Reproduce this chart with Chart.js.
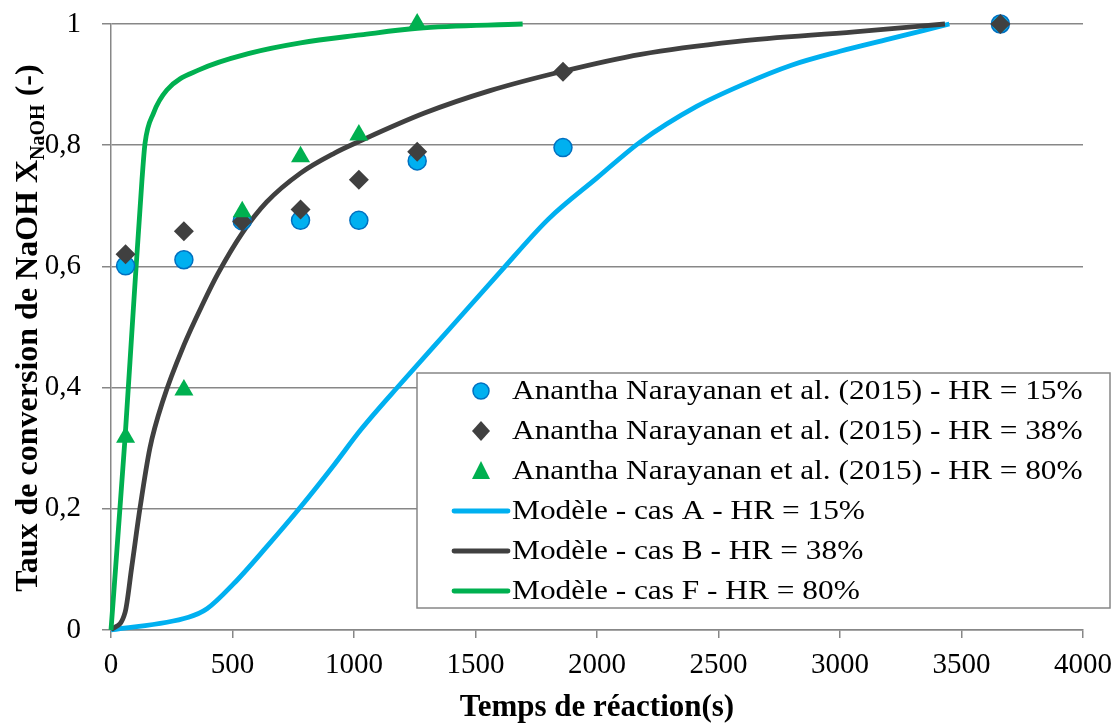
<!DOCTYPE html>
<html>
<head>
<meta charset="utf-8">
<title>Taux de conversion de NaOH</title>
<script src="https://cdn.jsdelivr.net/npm/chart.js"></script>
<style>
  html, body { margin: 0; padding: 0; background: #fff; }
</style>
</head>
<body>
<canvas id="conversionChart" width="1116" height="724"></canvas>
<script>
// experimental points (Anantha Narayanan et al. 2015)
const tExp = [60, 300, 540, 780, 1020, 1260, 1860, 3660];
const expHR15 = [0.601, 0.611, 0.675, 0.676, 0.676, 0.774, 0.796, 1.0];
const expHR38 = [0.62, 0.658, 0.674, 0.694, 0.743, 0.789, 0.921, 1.0];
const tExp80 = [60, 300, 540, 780, 1020, 1260];
const expHR80 = [0.318, 0.396, 0.69, 0.781, 0.817, 1.0];

// model curves
const tModelA = [0, 319, 395, 504, 642, 780, 917, 1027, 1200, 1400, 1600, 1800, 2000, 2180, 2410, 2600, 2800, 3000, 3200, 3350, 3450];
const modelA = [0, 0.021, 0.035, 0.076, 0.138, 0.203, 0.272, 0.33, 0.41, 0.5, 0.59, 0.678, 0.746, 0.806, 0.864, 0.9, 0.932, 0.955, 0.975, 0.99, 1.0];
const tModelB = [0, 58, 85, 120, 160, 215, 300, 380, 440, 540, 640, 780, 920, 1020, 1290, 1560, 1860, 2180, 2570, 3060, 3432];
const modelB = [0, 0.029, 0.103, 0.203, 0.3, 0.38, 0.47, 0.54, 0.588, 0.655, 0.706, 0.754, 0.787, 0.806, 0.853, 0.89, 0.922, 0.95, 0.971, 0.987, 1.0];
const tModelF = [0, 58, 92, 127, 140, 175, 230, 367, 573, 780, 1027, 1261, 1694];
const modelF = [0, 0.318, 0.53, 0.74, 0.803, 0.853, 0.891, 0.925, 0.952, 0.969, 0.982, 0.993, 1.0];

const xTicks = [0, 500, 1000, 1500, 2000, 2500, 3000, 3500, 4000];

const SERIF = '"Liberation Serif", "DejaVu Serif", serif';
const BLUE = '#00B0F0';
const DARK = '#404040';
const GREEN = '#00B050';
const GRID = '#878787';

const pts = (xs, ys) => xs.map((x, i) => ({ x: x, y: ys[i] }));

// y title with NaOH subscript, drawn by hand
const yTitlePlugin = {
  id: 'yTitle',
  afterDraw(chart) {
    const ctx = chart.ctx;
    const main = 'bold 32px ' + SERIF;
    const sub = 'bold 20px ' + SERIF;
    const parts = [
      ['Taux de conversion de NaOH X', main, 0],
      ['NaOH', sub, 7],
      [' (-)', main, 0]
    ];
    ctx.save();
    let total = 0;
    parts.forEach(p => { ctx.font = p[1]; total += ctx.measureText(p[0]).width; });
    ctx.translate(27, 328);
    ctx.rotate(-Math.PI / 2);
    ctx.fillStyle = '#000';
    ctx.textBaseline = 'alphabetic';
    let x = -total / 2;
    parts.forEach(p => {
      ctx.font = p[1];
      ctx.fillText(p[0], x, 10 + p[2]);
      x += ctx.measureText(p[0]).width;
    });
    ctx.restore();
  }
};

// legend box inside the plot, like the original
const boxLegendPlugin = {
  id: 'boxLegend',
  afterDraw(chart) {
    const ctx = chart.ctx;
    const left = 417, top = 373, right = 1110, bottom = 608;
    ctx.save();
    ctx.fillStyle = '#fff';
    ctx.fillRect(left, top, right - left, bottom - top);
    ctx.strokeStyle = GRID;
    ctx.lineWidth = 1.5;
    ctx.strokeRect(left, top, right - left, bottom - top);
    ctx.font = '28px ' + SERIF;
    ctx.textBaseline = 'middle';
    chart.data.datasets.forEach((ds, i) => {
      const y = 391 + i * 40;
      if (ds.showLine) {
        ctx.strokeStyle = ds.borderColor;
        ctx.lineWidth = ds.borderWidth;
        ctx.lineCap = 'round';
        ctx.beginPath();
        ctx.moveTo(454, y);
        ctx.lineTo(508, y);
        ctx.stroke();
      } else {
        const cx = 481;
        ctx.fillStyle = ds.backgroundColor;
        ctx.strokeStyle = ds.borderColor;
        ctx.lineWidth = ds.borderWidth;
        ctx.beginPath();
        if (ds.pointStyle === 'circle') {
          ctx.arc(cx, y, 8, 0, Math.PI * 2);
        } else if (ds.pointStyle === 'rectRot') {
          ctx.moveTo(cx, y - 10); ctx.lineTo(cx + 9, y); ctx.lineTo(cx, y + 10); ctx.lineTo(cx - 9, y);
          ctx.closePath();
        } else {
          ctx.moveTo(cx, y - 10); ctx.lineTo(cx + 9, y + 8); ctx.lineTo(cx - 9, y + 8);
          ctx.closePath();
        }
        ctx.fill();
        if (ds.borderWidth) ctx.stroke();
      }
      // Garamond in the original runs wider than Liberation Serif
      ctx.save();
      ctx.translate(512, y + 1);
      ctx.scale(1.12, 1);
      ctx.fillStyle = '#000';
      ctx.fillText(ds.label, 0, 0);
      ctx.restore();
    });
    ctx.restore();
  }
};

const ctx = document.getElementById('conversionChart').getContext('2d');
const chart = new Chart(ctx, {
  type: 'scatter',
  data: {
    datasets: [
      {
        label: 'Anantha Narayanan et al. (2015) - HR = 15%',
        data: pts(tExp, expHR15),
        pointStyle: 'circle',
        pointRadius: 9,
        backgroundColor: BLUE,
        borderColor: '#0070C0',
        borderWidth: 1.5,
        showLine: false,
        order: 3,
        clip: false
      },
      {
        label: 'Anantha Narayanan et al. (2015) - HR = 38%',
        data: pts(tExp, expHR38),
        pointStyle: 'rectRot',
        pointRadius: 10,
        backgroundColor: DARK,
        borderColor: DARK,
        borderWidth: 0,
        showLine: false,
        order: 2,
        clip: false
      },
      {
        label: 'Anantha Narayanan et al. (2015) - HR = 80%',
        data: pts(tExp80, expHR80),
        pointStyle: 'triangle',
        pointRadius: 11,
        backgroundColor: GREEN,
        borderColor: GREEN,
        borderWidth: 0,
        showLine: false,
        order: 1,
        clip: false
      },
      {
        label: 'Modèle - cas A - HR = 15%',
        data: pts(tModelA, modelA),
        showLine: true,
        borderColor: BLUE,
        backgroundColor: BLUE,
        borderWidth: 4.8,
        pointRadius: 0,
        cubicInterpolationMode: 'monotone',
        order: 6,
        clip: false
      },
      {
        label: 'Modèle - cas B - HR = 38%',
        data: pts(tModelB, modelB),
        showLine: true,
        borderColor: DARK,
        backgroundColor: DARK,
        borderWidth: 4.8,
        pointRadius: 0,
        cubicInterpolationMode: 'monotone',
        order: 5,
        clip: false
      },
      {
        label: 'Modèle - cas F - HR = 80%',
        data: pts(tModelF, modelF),
        showLine: true,
        borderColor: GREEN,
        backgroundColor: GREEN,
        borderWidth: 4.8,
        pointRadius: 0,
        cubicInterpolationMode: 'monotone',
        order: 4,
        clip: false
      }
    ]
  },
  options: {
    responsive: false,
    animation: false,
    layout: { padding: { top: 24, right: 33, left: 0, bottom: 0 } },
    plugins: {
      legend: { display: false },
      tooltip: { enabled: false }
    },
    scales: {
      x: {
        type: 'linear',
        min: 0,
        max: 4000,
        afterBuildTicks: (scale) => { scale.ticks = xTicks.map(v => ({ value: v })); },
        afterFit: (scale) => { scale.height = 94; scale.paddingLeft = 0; scale.paddingRight = 0; },
        grid: { drawOnChartArea: false, drawTicks: true, tickLength: 8, color: GRID, lineWidth: 1.5 },
        border: { color: GRID, width: 1.5 },
        ticks: {
          color: '#000',
          font: { family: SERIF, size: 29 },
          padding: 10,
          maxRotation: 0,
          callback: (v) => String(v)
        },
        title: {
          display: true,
          text: 'Temps de réaction(s)',
          color: '#000',
          font: { family: SERIF, size: 31, weight: 'bold' },
          padding: { top: 0, bottom: -3 }
        }
      },
      y: {
        type: 'linear',
        min: 0,
        max: 1,
        afterFit: (scale) => { scale.width = 111; scale.paddingTop = 0; scale.paddingBottom = 0; },
        grid: { drawOnChartArea: true, drawTicks: true, tickLength: 9, color: GRID, lineWidth: 1.5 },
        border: { color: GRID, width: 1.5 },
        ticks: {
          stepSize: 0.2,
          color: '#000',
          font: { family: SERIF, size: 29 },
          padding: 21,
          callback: (v) => String(Math.round(v * 10) / 10).replace('.', ',')
        }
      }
    }
  },
  plugins: [yTitlePlugin, boxLegendPlugin]
});
</script>
</body>
</html>
